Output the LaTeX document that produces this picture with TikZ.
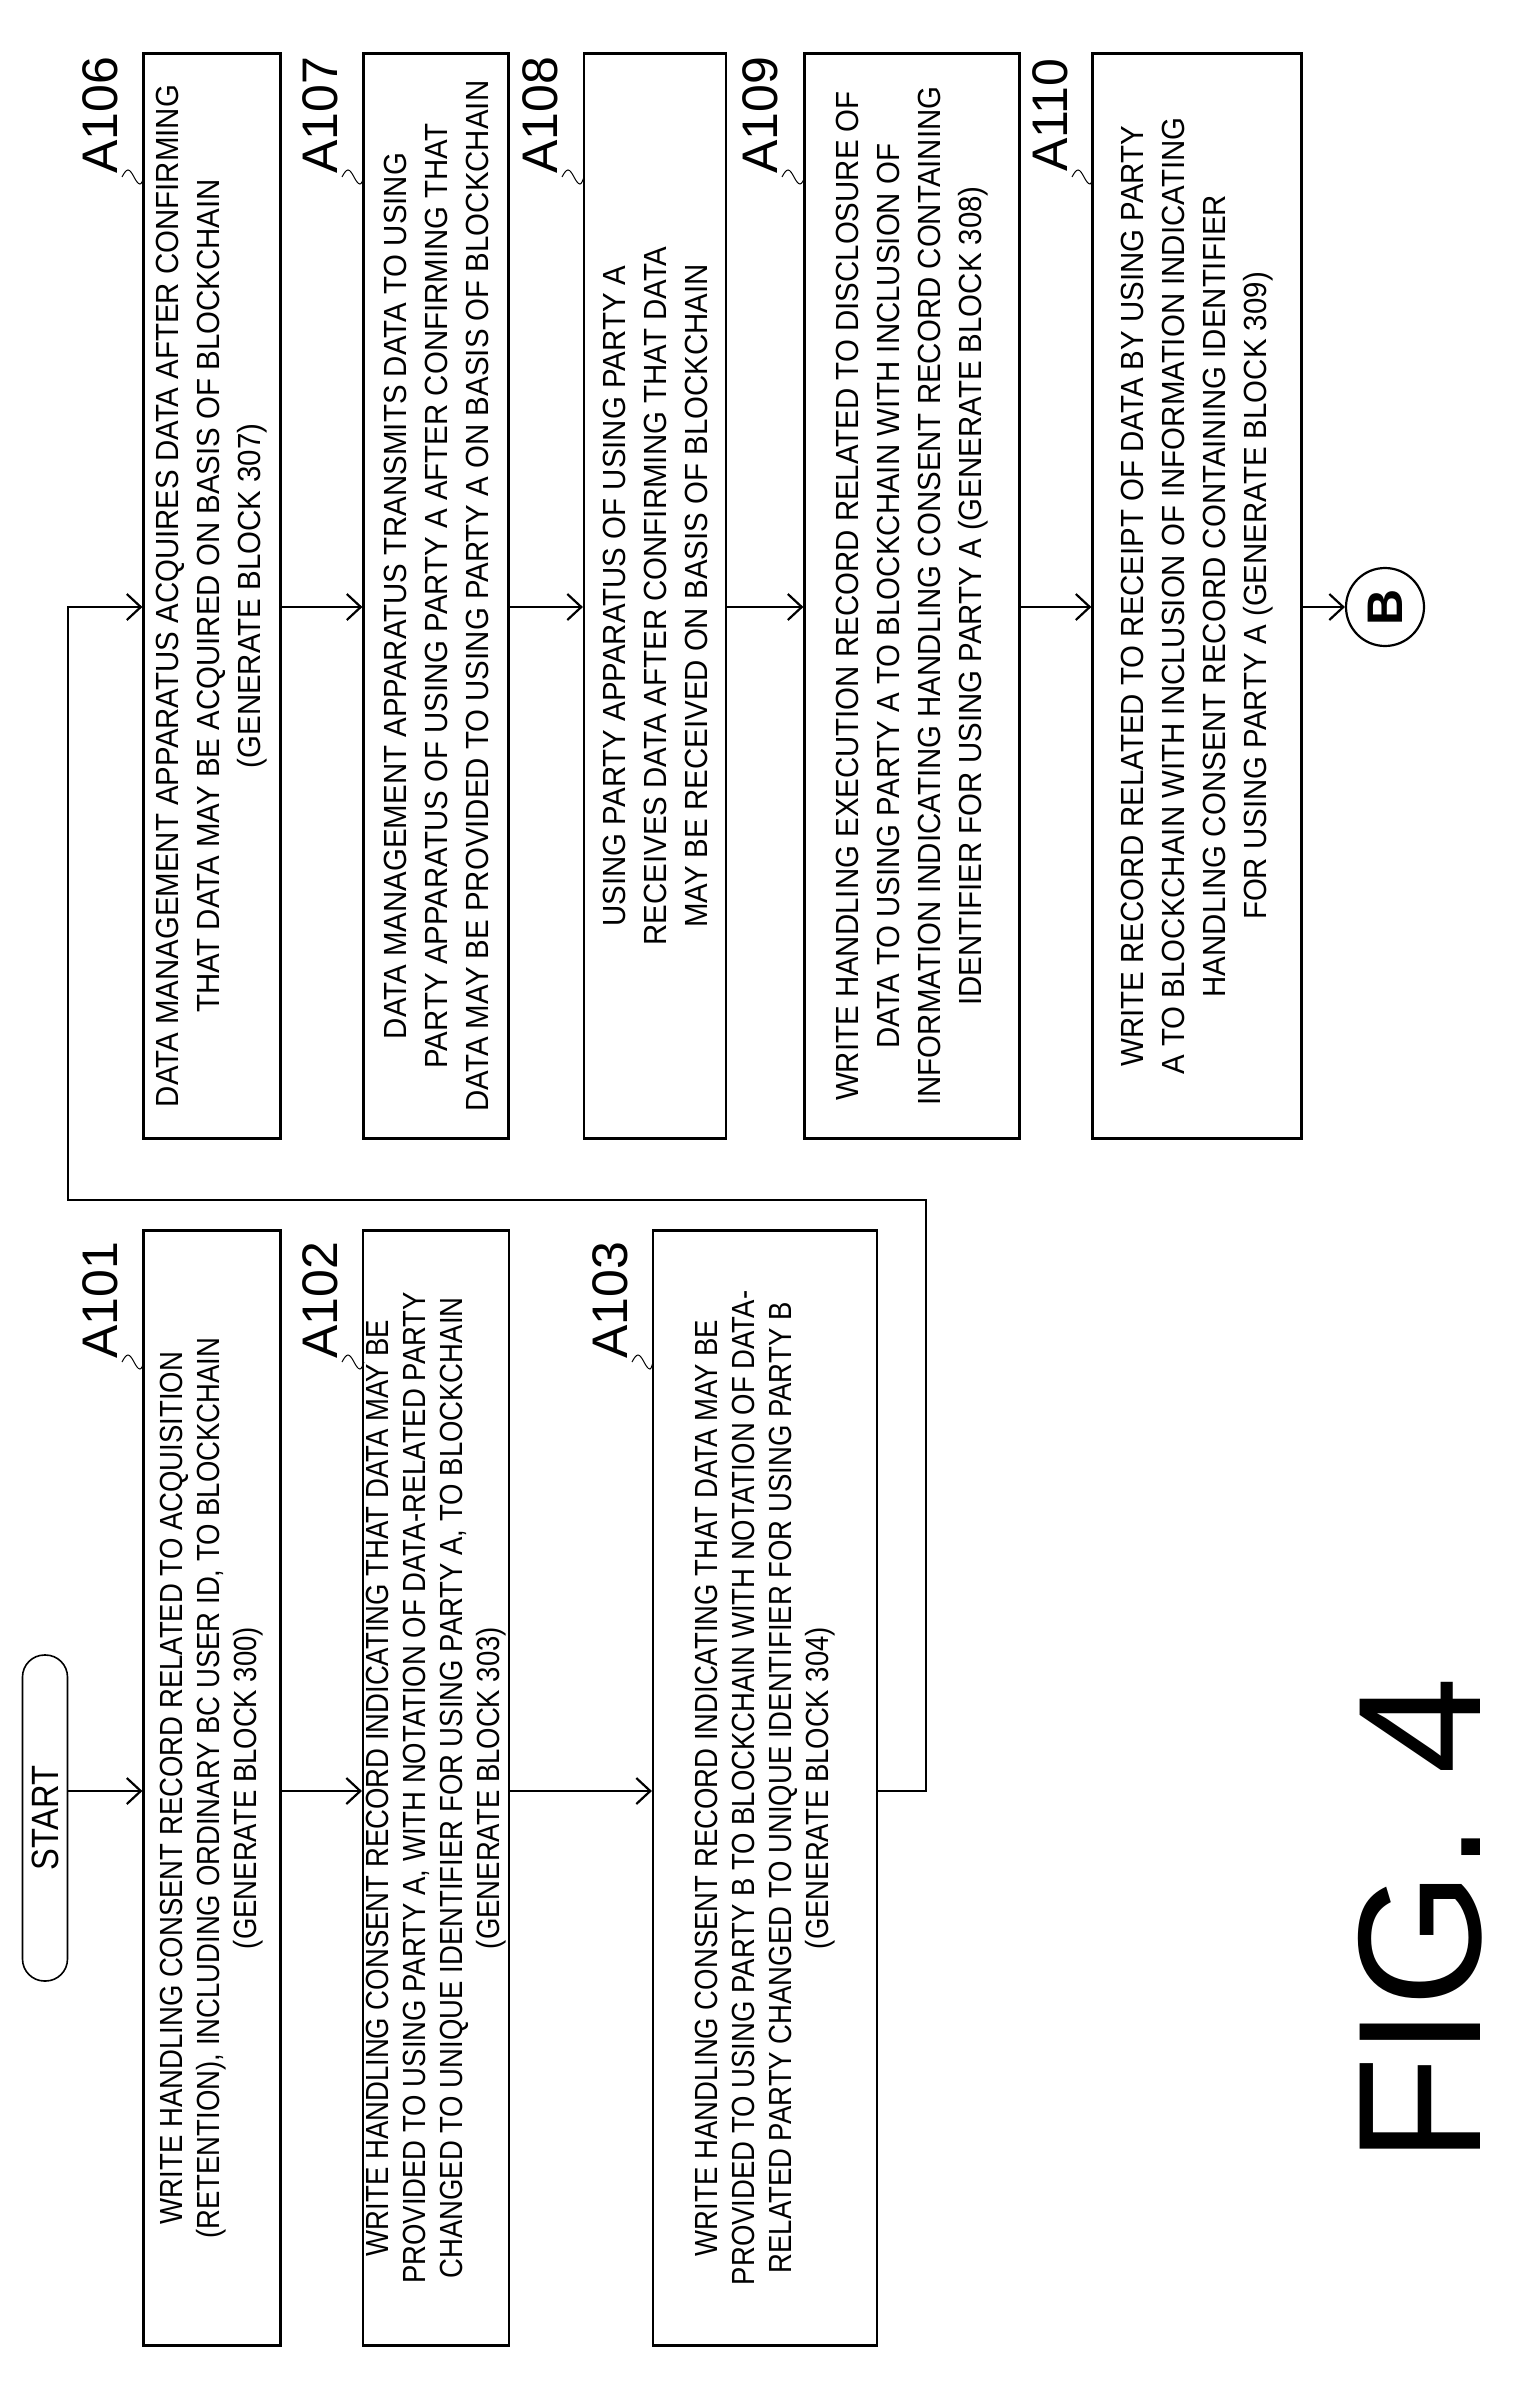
\documentclass[tikz,border=0pt]{standalone}
\usepackage{fontspec}
\setmainfont{Liberation Sans}
\newfontfamily\narrowL[FakeStretch=0.86]{Liberation Sans}
\newfontfamily\narrowR[FakeStretch=0.92]{Liberation Sans}
\usetikzlibrary{arrows.meta}
\begin{document}
\begin{tikzpicture}[x=1pt,y=-1pt,
  boxL/.style={draw,line width=2.2pt,rotate=90,align=center,inner sep=3pt,font=\narrowL\fontsize{32}{37}\selectfont},
  boxR/.style={draw,line width=2.2pt,rotate=90,align=center,inner sep=3pt,font=\narrowR\fontsize{32}{41}\selectfont},
  lbl/.style={rotate=90,font=\fontsize{50}{50}\selectfont,inner sep=0pt},
  arr/.style={line width=2.2pt,-{Straight Barb[length=14pt,width=26pt,line width=2.2pt]}},
  wav/.style={line width=1pt}]
\useasboundingbox (0,0) rectangle (1518,2403);
% left column
\node[draw,line width=1.6pt,rounded corners=22pt,rotate=90,minimum width=326pt,minimum height=45pt,inner sep=0pt,font=\narrowL\fontsize{38}{38}\selectfont] (st) at (45,1818) {START};
\node[boxL,minimum width=1115pt,minimum height=137pt] (a101) at (212,1788) {WRITE HANDLING CONSENT RECORD RELATED TO ACQUISITION\\(RETENTION), INCLUDING ORDINARY BC USER ID, TO BLOCKCHAIN\\(GENERATE BLOCK 300)};
\node[boxL,minimum width=1115pt,minimum height=145pt] (a102) at (436,1788) {WRITE HANDLING CONSENT RECORD INDICATING THAT DATA MAY BE\\PROVIDED TO USING PARTY A, WITH NOTATION OF DATA-RELATED PARTY\\CHANGED TO UNIQUE IDENTIFIER FOR USING PARTY A, TO BLOCKCHAIN\\(GENERATE BLOCK 303)};
\node[boxL,minimum width=1115pt,minimum height=224pt] (a103) at (765,1788) {WRITE HANDLING CONSENT RECORD INDICATING THAT DATA MAY BE\\PROVIDED TO USING PARTY B TO BLOCKCHAIN WITH NOTATION OF DATA-\\RELATED PARTY CHANGED TO UNIQUE IDENTIFIER FOR USING PARTY B\\(GENERATE BLOCK 304)};
% right column
\node[boxR,minimum width=1085pt,minimum height=137pt] (a106) at (212,596) {DATA MANAGEMENT APPARATUS ACQUIRES DATA AFTER CONFIRMING\\THAT DATA MAY BE ACQUIRED ON BASIS OF BLOCKCHAIN\\(GENERATE BLOCK 307)};
\node[boxR,minimum width=1085pt,minimum height=145pt] (a107) at (436,596) {DATA MANAGEMENT APPARATUS TRANSMITS DATA TO USING\\PARTY APPARATUS OF USING PARTY A AFTER CONFIRMING THAT\\DATA MAY BE PROVIDED TO USING PARTY A ON BASIS OF BLOCKCHAIN};
\node[boxR,minimum width=1085pt,minimum height=142pt] (a108) at (655,596) {USING PARTY APPARATUS OF USING PARTY A\\RECEIVES DATA AFTER CONFIRMING THAT DATA\\MAY BE RECEIVED ON BASIS OF BLOCKCHAIN};
\node[boxR,minimum width=1085pt,minimum height=215pt] (a109) at (912,596) {WRITE HANDLING EXECUTION RECORD RELATED TO DISCLOSURE OF\\DATA TO USING PARTY A TO BLOCKCHAIN WITH INCLUSION OF\\INFORMATION INDICATING HANDLING CONSENT RECORD CONTAINING\\IDENTIFIER FOR USING PARTY A (GENERATE BLOCK 308)};
\node[boxR,minimum width=1085pt,minimum height=209pt] (a110) at (1197,596) {WRITE RECORD RELATED TO RECEIPT OF DATA BY USING PARTY\\A TO BLOCKCHAIN WITH INCLUSION OF INFORMATION INDICATING\\HANDLING CONSENT RECORD CONTAINING IDENTIFIER\\FOR USING PARTY A (GENERATE BLOCK 309)};
\node[draw,circle,line width=2.2pt,minimum size=78pt,inner sep=0pt,rotate=90,font=\bfseries\fontsize{50}{50}\selectfont] (b) at (1385,607) {B};
% labels
\foreach \n/\x/\y/\bx in {A101/100/1300/144, A102/320/1300/364, A103/610/1300/653, A106/100/115/144, A107/320/115/364, A108/540/115/584, A109/760/115/805, A110/1050/115/1093}{
  \node[lbl] (l\n) at (\x,\y) {\n};
  \draw[wav] (\x+22,\y+62) sin (\x+28,\y+55) cos (\x+34,\y+62) sin (\x+40,\y+69) cos (\bx,\y+62);
}
% FIG
\node[rotate=90,font=\fontsize{175}{175}\selectfont,inner sep=0pt] (fig) at (1420,1920) {FIG. 4};
% arrows
\coordinate (yl) at (0,1791);
\coordinate (yr) at (0,607);
\draw[arr] (st.south |- yl) -- (a101.north |- yl);
\draw[arr] (a101.south |- yl) -- (a102.north |- yl);
\draw[arr] (a102.south |- yl) -- (a103.north |- yl);
\coordinate (c1) at (926,1200);
\coordinate (c2) at (68,1200);
\draw[arr] (a103.south |- yl) -- (c1 |- yl) -- (c1) -- (c2) -- (c2 |- yr) -- (a106.north |- yr);
\draw[arr] (a106.south |- yr) -- (a107.north |- yr);
\draw[arr] (a107.south |- yr) -- (a108.north |- yr);
\draw[arr] (a108.south |- yr) -- (a109.north |- yr);
\draw[arr] (a109.south |- yr) -- (a110.north |- yr);
\draw[arr] (a110.south |- yr) -- (b);
\end{tikzpicture}
\end{document}
